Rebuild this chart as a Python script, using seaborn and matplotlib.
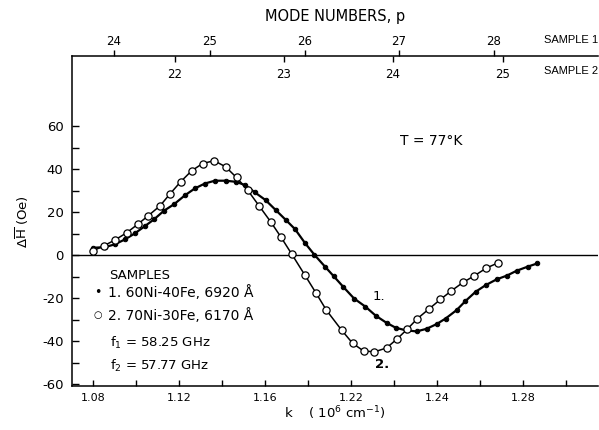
import matplotlib
matplotlib.use("Agg")
import matplotlib.pyplot as plt
import seaborn as sns
import numpy as np
import pandas as pd

# sample 1 (filled dots): k in 10^6 cm^-1, dH in Oe
k1 = [1.0801, 1.0856, 1.0902, 1.0949, 1.0995, 1.1042, 1.1084, 1.1130, 1.1178,
      1.1228, 1.1274, 1.1321, 1.1367, 1.1417, 1.1465, 1.1507, 1.1553, 1.1603,
      1.1651, 1.1698, 1.1740, 1.1786, 1.1830, 1.1880, 1.1920, 1.1964, 1.2015,
      1.2068, 1.2116, 1.2166, 1.2209, 1.2256, 1.2306, 1.2352, 1.2399, 1.2441,
      1.2492, 1.2533, 1.2580, 1.2627, 1.2678, 1.2727, 1.2771, 1.2822, 1.2867]
h1 = [3.4, 3.7, 5.0, 7.3, 10.1, 13.5, 16.6, 20.6, 23.7,
      27.8, 31.0, 33.3, 34.6, 34.6, 34.1, 32.6, 29.2, 25.6,
      20.9, 16.3, 12.1, 5.7, 0.2, -5.4, -9.8, -14.7, -20.2,
      -24.0, -28.2, -31.5, -33.8, -35.0, -35.5, -34.3, -32.1, -29.5,
      -25.6, -21.4, -17.1, -14.0, -11.3, -9.5, -7.3, -5.4, -3.9]

# sample 2 (open circles)
k2 = [1.0801, 1.0850, 1.0902, 1.0957, 1.1008, 1.1057, 1.1112, 1.1158, 1.1208,
      1.1259, 1.1310, 1.1364, 1.1417, 1.1468, 1.1520, 1.1573, 1.1627, 1.1674,
      1.1726, 1.1786, 1.1837, 1.1886, 1.1957, 1.2008, 1.2059, 1.2110, 1.2166,
      1.2215, 1.2261, 1.2309, 1.2363, 1.2417, 1.2468, 1.2522, 1.2575, 1.2631,
      1.2685]
h2 = [2.0, 4.3, 7.0, 10.4, 14.3, 18.3, 22.9, 28.4, 34.1,
      39.2, 42.6, 43.9, 41.1, 36.1, 30.2, 22.9, 15.5, 8.5,
      0.3, -9.3, -17.5, -25.6, -34.9, -41.0, -44.6, -45.0, -43.2,
      -39.0, -34.6, -29.6, -25.1, -20.6, -16.6, -12.7, -9.6, -6.0,
      -3.6]

# bottom axis ticks (the original print reads "1.22" where 1.20 sits)
k_ticks = [1.08, 1.10, 1.12, 1.14, 1.16, 1.18, 1.20, 1.22, 1.24, 1.26, 1.28, 1.30]
k_labels = ["1.08", "", "1.12", "", "1.16", "", "1.22", "", "1.24", "", "1.28", ""]
h_ticks = [-60, -50, -40, -30, -20, -10, 0, 10, 20, 30, 40, 50, 60]
h_labels = ["-60", "", "-40", "", "-20", "", "0", "", "20", "", "40", "", "60"]

# mode numbers on top
p1_pos = [1.0898, 1.1344, 1.1786, 1.2223, 1.2665]
p1_lab = ["24", "25", "26", "27", "28"]
p2_pos = [1.1181, 1.1688, 1.2195, 1.2707]
p2_lab = ["22", "23", "24", "25"]

sns.set_style("white")
plt.rcParams["font.family"] = ["DejaVu Sans"]
plt.rcParams["mathtext.default"] = "regular"
for key in ["text.color", "axes.labelcolor", "xtick.color", "ytick.color"]:
    plt.rcParams[key] = "black"

df1 = pd.DataFrame({"k": k1, "dH": h1})
df2 = pd.DataFrame({"k": k2, "dH": h2})

fig = plt.figure(figsize=(5.99, 4.30), dpi=100)
ax = fig.add_axes([0.120, 0.1023, 0.878, 0.7674])

ax.axhline(0, color="black", lw=1.0, zorder=1)

sns.lineplot(data=df1, x="k", y="dH", ax=ax, color="black", lw=1.6,
             marker="o", markersize=3.2, markerfacecolor="black",
             markeredgecolor="black", zorder=3)
sns.lineplot(data=df2, x="k", y="dH", ax=ax, color="black", lw=1.1,
             marker="o", markersize=5.2, markerfacecolor="white",
             markeredgecolor="black", markeredgewidth=0.9, zorder=4)

ax.set_xlim(1.0702, 1.3149)
ax.set_ylim(-60.9, 92.6)
ax.set_xticks(k_ticks)
ax.set_xticklabels(k_labels, fontsize=8)
ax.set_yticks(h_ticks)
ax.set_yticklabels(h_labels, fontsize=9.5)
ax.tick_params(axis="x", direction="in", length=4, width=1, pad=5, bottom=True)
ax.tick_params(axis="y", direction="in", length=5, width=1, pad=6, left=True)

ax.spines["right"].set_visible(False)
for s in ["left", "bottom", "top"]:
    ax.spines[s].set_color("black")
    ax.spines[s].set_linewidth(1.1)

ax.set_xlabel(r"k    ( 10$^6$ cm$^{-1}$)", fontsize=9.5, labelpad=1)
ax.set_ylabel(r"$\Delta\overline{H}$ (Oe)", fontsize=9.5, labelpad=8)

# sample 1 mode numbers above the top spine
top1 = ax.secondary_xaxis("top")
top1.set_xticks(p1_pos)
top1.set_xticklabels(p1_lab, fontsize=8.5)
top1.tick_params(direction="out", length=4, width=1, pad=2)
top1.spines["top"].set_visible(False)
top1.set_xlabel("MODE NUMBERS, p", fontsize=10.5, labelpad=10)

# sample 2 mode numbers below the top spine
top2 = ax.secondary_xaxis("top")
top2.set_xticks(p2_pos)
top2.set_xticklabels(p2_lab, fontsize=8.5)
top2.tick_params(direction="in", length=4, width=1, pad=-18)
top2.spines["top"].set_visible(False)

fig.text(0.908, 0.907, "SAMPLE 1", fontsize=8, va="center", ha="left",
         family="Liberation Sans")
fig.text(0.908, 0.835, "SAMPLE 2", fontsize=8, va="center", ha="left",
         family="Liberation Sans")

ax.text(0.624, 0.742, "T = 77°K", transform=ax.transAxes, fontsize=10, va="center")
ax.text(0.0703, 0.336, "SAMPLES", transform=ax.transAxes, fontsize=9.5, va="center")
ax.text(0.042, 0.282, "•", transform=ax.transAxes, fontsize=9, va="center")
ax.text(0.042, 0.215, "○", transform=ax.transAxes, fontsize=7, va="center")
ax.text(0.068, 0.282, "1. 60Ni-40Fe, 6920 Å", transform=ax.transAxes, fontsize=10, va="center")
ax.text(0.068, 0.215, "2. 70Ni-30Fe, 6170 Å", transform=ax.transAxes, fontsize=10, va="center")
ax.text(0.072, 0.130, r"f$_1$ = 58.25 GHz", transform=ax.transAxes, fontsize=9.5, va="center")
ax.text(0.072, 0.061, r"f$_2$ = 57.77 GHz", transform=ax.transAxes, fontsize=9.5, va="center")
ax.text(0.572, 0.270, "1.", transform=ax.transAxes, fontsize=9.5, va="center")
ax.text(0.576, 0.064, "2.", transform=ax.transAxes, fontsize=9.5, va="center", fontweight="bold")

fig.savefig("out.png", dpi=100)
